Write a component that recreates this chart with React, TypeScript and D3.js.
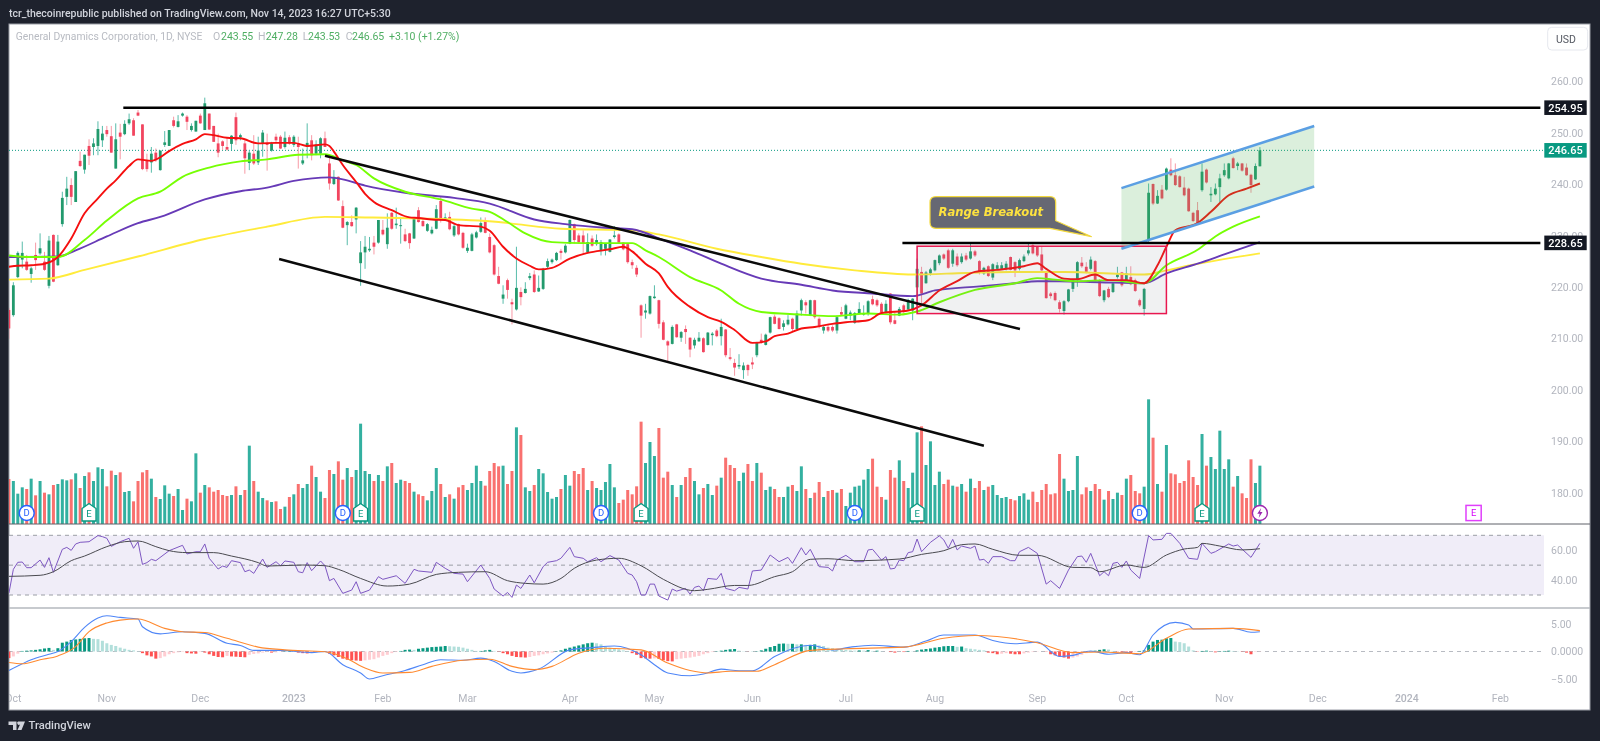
import * as d3 from "d3";

const WIDTH = 1600;
const HEIGHT = 741;

// bars are read left to right off the picture, t = up day, r = down day
const dayDirection = (
  "rtttrtrtrt" + "rtttrtrtrt" + "ttrrtrttrr" + "rrtrtttrtt" + "rttrtrrrrr" + "trtrtrttrt" +
  "rrtrtrttrt" + "trrtrrtrtt" + "ttrtrtrttr" + "rtrrtttrtr" + "trrttttrrr" +
  "rtrrtrttrt" + "ttttrttrrr" + "trtttttrrr" + "rrr" +
  "tttrrrtrtr" + "rttrttrtrr" + "rttrrtrttr" + "rttrttrtrr" + "trrtrttttt" + "trrrtrrtrt" +
  "ttrttttrrt" + "rtrtrrtrtt" + "ttrrtttrrr" + "rrrrttttrr" + "trrtrttrtr" + "rrttrtrtrr" +
  "rrrrrtrttt" + "ttrtrrrtt"
).split("");

const volumes = [
  135, 129, 91, 110, 105, 136, 86, 129, 94, 89,
  117, 120, 134, 131, 134, 152, 108, 144, 155, 129,
  170, 165, 113, 160, 147, 155, 96, 99, 68, 129,
  155, 162, 136, 81, 75, 116, 91, 84, 105, 42,
  76, 68, 212, 94, 117, 110, 97, 102, 87, 84,
  87, 113, 87, 102, 235, 129, 97, 78, 71, 66,
  68, 45, 52, 81, 89, 120, 108, 120, 175, 141,
  97, 78, 162, 150, 188, 133, 168, 141, 162, 301,
  159, 150, 129, 147, 129, 173, 183, 123, 133, 129,
  123, 97, 89, 84, 71, 99, 168, 120, 81, 89,
  76, 110, 117, 102, 123, 175, 129, 115, 159, 183,
  173, 175, 120, 159, 290, 267, 110, 99, 117, 165,
  152, 96, 76, 81, 105, 147, 115, 159, 150, 168,
  102, 129, 108, 102, 126, 180, 110, 63, 73, 102,
  89, 113, 307,
  183, 246, 204, 288, 139, 157, 117, 81, 117, 141,
  168, 129, 89, 108, 120, 87, 115, 139, 199, 177,
  168, 129, 154, 180, 129, 183, 154, 102, 112, 105,
  81, 81, 112, 117, 99, 173, 105, 78, 94, 126,
  81, 99, 102, 94, 105, 54, 94, 112, 115, 133,
  165, 196, 112, 81, 73, 162, 139, 191, 129, 108,
  154, 275, 293, 177, 248, 117, 157, 120, 133, 115,
  112, 120, 97, 136, 108, 129, 102, 112, 117, 87,
  78, 81, 75, 71, 84, 92, 73, 97, 66, 102,
  120, 89, 92, 210, 136, 99, 102, 204, 89, 110,
  99, 120, 105, 73, 99, 75, 94, 87, 136, 147,
  99, 92, 112, 374, 259, 120, 97, 237, 152, 149,
  123, 129, 191, 141, 117, 270, 175, 201, 165, 280,
  165, 194, 112, 144, 92, 78, 194, 123, 175,
];

const highs = [
  216, 221, 227, 228.9, 226.3, 224, 228.7, 230.5, 226.9, 230,
  230.3, 230.2, 238.6, 241.5, 241.2, 242.6, 246.4, 245.8, 248.8, 249,
  252.3, 251.4, 251.4, 251.4, 251.9, 251.8, 252.5, 253.8, 252.9, 254.5,
  251.7, 246, 247.3, 247, 246.6, 250.4, 250.6, 253.2, 253.5, 254,
  253.5, 251.9, 252.4, 253.8, 256.9, 253.8, 251.4, 249.9, 248.6, 249,
  249.6, 254, 249.9, 248.6, 246.7, 249.6, 249.3, 250.6, 249.9, 248.3,
  249.9, 249.6, 250.3, 249.6, 249.6, 249.3, 247, 251.9, 249.6, 248.6,
  249.2, 250.3, 245.4, 242.8, 241.6, 236.9, 232.9, 234, 235.6, 229,
  230, 229.8, 230, 233.1, 233.1, 234.4, 234.7, 235.5, 233.7, 231.4,
  230.6, 233.6, 235.6, 233.4, 232.5, 231.8, 236, 237.6, 234.4, 234.7,
  232.4, 232.4, 230.8, 228.5, 230.6, 231, 233.6, 233.6, 230.5, 228.4,
  224, 220.4, 221.7, 217.8, 227.9, 220, 221, 222.8, 223.3, 222.3,
  223.8, 225.6, 225.6, 226.9, 227.5, 228.4, 233.2, 232.4, 230.5, 231.1,
  230.5, 230.1, 230.3, 229.2, 228.6, 229.4, 231.9, 230.5, 228.8, 228.5,
  225.4, 224.3, 216.7, 216.8, 218.4, 220.4, 217.6, 213.6, 209.7, 212.6,
  212.9, 211.5, 212.6, 210.3, 210.2, 211.3, 210.3, 211.3, 211.3, 211.9,
  213.9, 211.9, 208.2, 206.1, 207, 205.4, 205.1, 206.4, 209.4, 211,
  211, 214.3, 214.7, 214.2, 213.6, 214.6, 214.1, 215.5, 217.8, 217.5,
  217.6, 217.6, 214.2, 212.6, 212.8, 212.6, 214.5, 216.2, 216.8, 215.5,
  215.2, 217.1, 216.5, 217.5, 218.4, 217.8, 217.1, 217.5, 218.9, 215.2,
  216.2, 216.8, 217.8, 217.9, 225.6, 224, 223.2, 223.8, 225.4, 226.4,
  226.6, 227.5, 227.5, 226.6, 226.6, 226.7, 228.7, 227.3, 225.3, 224,
  224.3, 224.7, 224.9, 224.9, 225.1, 226, 225.1, 225.6, 226.4, 228.5,
  228.4, 228, 227.9, 223, 219.1, 219.2, 217.5, 217.5, 219.7, 221.5,
  225.1, 225.9, 224.9, 226, 225.3, 221.6, 219.5, 220.1, 221, 224,
  223, 224, 224.1, 221.7, 217.8, 219.9, 240.2, 240.2, 238.9, 239.9,
  243.3, 245.1, 244.1, 241.8, 241.5, 239.4, 234.7, 236.6, 244.1, 243.1,
  239.5, 240.2, 242.1, 244.1, 244.2, 245.4, 244.4, 244.2, 244.1, 242.1,
  244.1, 247.28,
];

const bodyTops = [
  215.6, 220.4, 226.7, 226.7, 225, 223.7, 226.3, 227.6, 225, 229.1,
  230.2, 228.9, 237.4, 239.2, 239.9, 242.6, 244.6, 245.8, 247.5, 248,
  250.8, 249.9, 250.6, 249.4, 248.8, 250.1, 251.8, 252.7, 252.5, 254,
  251.7, 244.7, 246, 246.2, 246.6, 248.2, 250.6, 252.5, 252.3, 253.8,
  253.2, 251.4, 252.4, 253.4, 255.8, 253.8, 251.4, 248, 248.4, 247.3,
  249.5, 253.1, 249.6, 248, 246.2, 246, 246.6, 250.1, 248, 248,
  249.3, 249.3, 249.1, 249.2, 249.3, 248, 244.7, 248.1, 248.6, 247.8,
  249, 249, 244.1, 241.5, 241.5, 235.8, 232.7, 232.7, 235.5, 226.8,
  227.9, 227.5, 228.7, 233.1, 231.2, 231.6, 234.5, 232.4, 232.1, 230.3,
  230.5, 233.4, 235, 232.9, 232.3, 231.2, 235.2, 236.8, 233.6, 233.7,
  231.9, 232.3, 230.6, 227.7, 230.3, 230.7, 232.5, 232.9, 229.8, 228.2,
  222.2, 218.6, 221.4, 217.1, 219.9, 219.1, 219.7, 222.2, 222.5, 219.9,
  223.6, 225.1, 225.4, 226.7, 227.1, 228.1, 233.1, 232.3, 230.1, 230.1,
  228.8, 229.5, 229.2, 228.8, 228.5, 229.3, 230.1, 230.3, 228.7, 228.4,
  224.9, 223.8, 216.5, 215.5, 218.3, 218.2, 217.5, 213.2, 209.5, 212.3,
  212.8, 211.3, 211.9, 210.2, 209.8, 210.2, 210.1, 211.2, 211, 211.6,
  212.3, 211.8, 206.4, 205.3, 204.9, 204.8, 204.9, 205.4, 209.2, 209.8,
  210.8, 214.2, 214.3, 214, 213, 213.7, 213.9, 214.9, 217.5, 217.1,
  217.5, 217.5, 213.9, 212.3, 212.3, 212.3, 214.2, 215.2, 216.5, 215.1,
  215, 215.8, 215, 217.3, 217.7, 217.5, 216.8, 216.8, 218.8, 213.6,
  215.8, 216.5, 217.5, 217.8, 223.6, 223, 222.9, 223.5, 225.3, 226.2,
  226.4, 227.2, 227.2, 226, 226, 226.2, 227, 227, 225.1, 223.8,
  224.1, 224.5, 224.3, 224.3, 224.6, 225.9, 224.9, 225.3, 226, 227.2,
  228.2, 227.9, 226.4, 222.8, 218.8, 218.9, 217.1, 217.3, 219.6, 221.4,
  224.9, 224.8, 224, 225.4, 225.1, 221.4, 219.4, 219.7, 220.8, 222.5,
  222.9, 222.7, 222, 221.4, 217.5, 219.7, 238.4, 240.1, 237.8, 239,
  243.1, 242.9, 241.8, 241.6, 239.4, 239.2, 234.5, 235, 242.5, 242.9,
  238.2, 239.2, 241.2, 242.8, 244.1, 245.1, 244.1, 244.1, 243.3, 241.9,
  243.6, 246.65,
];

const bodyBottoms = [
  212, 214.6, 222, 225.4, 223.4, 222.6, 225.3, 226.6, 223.4, 220.3,
  221.1, 224.3, 232.3, 237.6, 237.6, 236.6, 243.6, 242.9, 245.6, 247.3,
  247.5, 248.6, 249.8, 246.2, 243.1, 249.3, 249.8, 251.9, 249.5, 253.4,
  243, 243, 244.3, 244.7, 242.8, 247.7, 247.5, 251.4, 251.2, 253.4,
  252.2, 250.6, 250.3, 251.9, 250.6, 250.7, 248.3, 246.2, 247.5, 246.8,
  247.9, 248.6, 249.2, 245.1, 244.2, 244.1, 244.3, 248, 247.7, 246.6,
  248.6, 247, 247.3, 248, 247.7, 247.3, 244.1, 247.3, 245.7, 246,
  246, 247.3, 240.2, 240.1, 236.9, 231.6, 232.1, 231.9, 233.2, 224.7,
  226.8, 227.2, 227.9, 228.7, 230.3, 228.4, 231.4, 232.1, 231.9, 229,
  228.6, 229.5, 232.7, 231.9, 231, 230.5, 231.4, 233.2, 233.2, 231.3,
  230.1, 230.3, 227.7, 227.1, 227.1, 229.7, 230.8, 230.6, 226.8, 222.5,
  220.7, 217.8, 219.5, 216.7, 215.7, 218.1, 218.9, 221.8, 219.1, 219.2,
  219.7, 224, 224.9, 225.3, 226.7, 226.8, 228.5, 229.2, 228.8, 228.5,
  226.8, 228.1, 228.4, 227.2, 227.5, 226.9, 229.8, 228.7, 227.4, 224.9,
  224.3, 222.5, 214.5, 215.1, 214.9, 217.9, 212.9, 209.8, 208.7, 209,
  210.3, 210.2, 211.3, 207.9, 208.7, 209.5, 207.4, 208.8, 210.7, 210.5,
  210.5, 206.8, 206.1, 204.4, 204.6, 203.9, 203.9, 205, 206.8, 209.2,
  208.8, 211.2, 212.9, 211.9, 212.3, 212.8, 211.9, 211.9, 215.5, 216.5,
  214.5, 214.2, 212.3, 211.6, 211.6, 211.6, 211.6, 214.7, 213.9, 214.5,
  213.1, 214.9, 214.7, 214.9, 216.7, 216.5, 215.1, 215.2, 213.2, 212.9,
  214.5, 215.2, 215.7, 215.5, 220, 218.8, 220.8, 222.7, 223.3, 224.7,
  225.6, 223.8, 224.6, 224.3, 224.9, 225.4, 225.6, 226.2, 223, 222.7,
  222.2, 221.9, 223.6, 223.6, 223.6, 223.4, 223.3, 223.6, 225.1, 226.6,
  226.6, 226.2, 223.3, 217.9, 218.3, 217.5, 215.8, 215.4, 217.3, 219.7,
  221.4, 224.1, 223, 223.6, 221.4, 218.3, 217.5, 218.1, 219.1, 222,
  220.4, 221.4, 220.6, 219.3, 216.5, 215.8, 229.2, 236.3, 236.3, 237.3,
  239, 241.8, 239.9, 239.5, 237.9, 234.8, 232.9, 232.5, 238.9, 240.4,
  237.9, 238.1, 239.5, 241.8, 241.2, 243.2, 243.6, 242.7, 241.8, 239.9,
  241, 243.55,
];

const lows = [
  210, 214.3, 221.8, 223.7, 223.2, 220.9, 223.4, 226.3, 223.2, 219.8,
  221, 224.2, 231.8, 236, 236, 236.6, 243.4, 242.1, 243.8, 245.7,
  245.7, 247.3, 249.3, 246.2, 243.1, 244.9, 249.6, 251.6, 249.5, 253.3,
  242.8, 242.5, 242.3, 244.4, 242.7, 247.3, 247.5, 251.1, 251.1, 253.2,
  250.6, 250.3, 250.3, 251.8, 250.6, 250.6, 248.3, 245.3, 246.7, 246.6,
  246.7, 247.7, 248.6, 242.1, 242.8, 243.8, 243.8, 245.4, 242.7, 246.4,
  248, 246.9, 247, 247.7, 247.3, 243.1, 243.8, 245.1, 244.7, 245.7,
  245.1, 247.3, 239, 239.9, 236.8, 231.5, 228.2, 231.8, 230.5, 220.3,
  223.6, 226.9, 226.4, 228.5, 230.1, 227.5, 231.2, 231.4, 228.5, 228.8,
  227.5, 229.4, 232.6, 231.8, 230.8, 230.3, 231.3, 232.6, 233.1, 231.1,
  229.8, 230.1, 227.5, 226.7, 227, 229.5, 230.6, 230.5, 226.6, 222.3,
  220.6, 216.8, 217.8, 212.8, 215.5, 216.5, 218.8, 221.4, 218.9, 219.1,
  219.5, 223.6, 224.6, 225.1, 225.4, 226.6, 228.4, 228.5, 228.5, 226.6,
  226.6, 227.9, 228.1, 226.2, 226.2, 226.8, 229.5, 228.5, 227.2, 224.6,
  223.6, 222, 210.2, 213.9, 214.7, 217.8, 212, 209.7, 205.3, 208.9,
  210.2, 209.4, 209, 206.4, 208.1, 209.4, 207.3, 208.7, 208.7, 210.3,
  208.7, 206.4, 205.8, 202.8, 204.1, 202.2, 202.8, 204.1, 206.4, 209,
  208.7, 211, 212.8, 211.8, 211.6, 212.6, 211.5, 211.8, 214.5, 214.9,
  214.4, 213.9, 212, 211, 211.3, 211.3, 211, 214.5, 213.8, 213.6,
  212.9, 214.7, 214.5, 214.5, 216.5, 216.2, 214.9, 214.9, 212.8, 212.8,
  214.4, 215, 215.5, 213.6, 216.2, 216.8, 220.7, 222.3, 223.1, 224.3,
  225.3, 223.6, 224, 224, 224.6, 225.1, 225.4, 225.9, 222.5, 222.4,
  222, 221.4, 223.3, 223.4, 223.3, 223.3, 222, 223.3, 224.9, 226.2,
  226.4, 225.9, 223.2, 217.8, 217.8, 217.3, 215.1, 214.7, 217.1, 219.1,
  220.1, 223.8, 222.7, 223.3, 221, 218.1, 217.1, 217.9, 218.9, 221.7,
  220.1, 221.2, 220.4, 219.1, 216.2, 214.5, 228.6, 236, 236.2, 237.1,
  238.8, 241.6, 239.7, 239.4, 237.7, 234.7, 232.7, 232.4, 238.6, 240.2,
  236.6, 237.9, 236.6, 241.5, 241, 243.1, 242.8, 242.5, 241.7, 238.4,
  240.9, 243.53,
];

// moving averages, [bar, value]
const ema20: [number, number][] = [
  [0, 224], [2, 224.2], [5, 224.3], [8, 224.6], [11, 225.9], [14, 229.5], [17, 234.4], [20, 237.3], [22, 239.2], [24, 240.8],
  [27, 243.6], [29, 244.9], [32, 244.6], [34, 245.3], [36, 246.5], [39, 247.9], [42, 248.8], [44, 249.8], [46, 249.6], [49, 249.1],
  [52, 249], [56, 248], [60, 248.1], [64, 248.1], [67, 247.5], [71, 247.8], [72, 247.5], [73, 246.4], [75, 243.8], [78, 240.5],
  [80, 238.2], [82, 236.6], [86, 235], [90, 233.6], [92, 233.5], [95, 233.2], [98, 233.1], [101, 232.1], [106, 231.8], [108, 231],
  [111, 227.9], [114, 225.6], [117, 224.2], [119, 223.5], [122, 223.8], [126, 225.6], [130, 226.7], [135, 227.4], [138, 227.9], [140, 227],
  [143, 224.6], [146, 222.7], [148, 220.1], [153, 216.2], [157, 214.2], [160, 213.3], [163, 211.7], [167, 209.2], [170, 209.5], [172, 210.5],
  [175, 211], [178, 212], [181, 212.3], [185, 212.9], [188, 213.2], [193, 213.6], [196, 215], [202, 215.5], [205, 216.5], [209, 219.4],
  [213, 221.2], [217, 223], [222, 223.4], [228, 224.1], [231, 224.7], [233, 223.6], [237, 221.7], [240, 221.6], [244, 222.5], [247, 221.4],
  [251, 221.4], [255, 220.8], [258, 224.3], [260, 227.9], [262, 231.1], [267, 232.5], [270, 234.7], [274, 237.9], [278, 239.2], [281, 240.2],
];
const ema50: [number, number][] = [
  [0, 226.2], [5, 225.9], [11, 225.9], [17, 229.2], [22, 233], [29, 237.3], [34, 238.6], [39, 241.5], [45, 243.3], [52, 244.5],
  [58, 244.9], [65, 245.8], [71, 245.9], [75, 244.7], [78, 243.8], [82, 241.2], [89, 238.6], [97, 237.1], [104, 235.3], [108, 234.7],
  [112, 232.7], [116, 230.5], [122, 228.8], [129, 228.6], [140, 228.6], [143, 227.2], [146, 225.9], [153, 222], [160, 219.4], [164, 216.8],
  [169, 215.2], [178, 214.7], [185, 214.4], [193, 214.9], [200, 214.7], [204, 215.3], [209, 217.1], [217, 219.5], [226, 220.8], [231, 221.8],
  [235, 221.5], [240, 221.2], [247, 221.4], [255, 220.8], [260, 224.3], [267, 227.3], [271, 229.9], [275, 231.8], [281, 233.8],
];
const ema100: [number, number][] = [
  [0, 225.9], [11, 226], [15, 227.2], [22, 229.9], [29, 232.5], [34, 233.7], [44, 237.1], [52, 238.7], [58, 239.4], [64, 240.7],
  [72, 241.4], [75, 241], [80, 239.8], [89, 238.4], [100, 237.4], [108, 236.3], [118, 233.2], [125, 232.3], [134, 231.6], [140, 231.3],
  [147, 229.2], [153, 227.2], [160, 224.6], [169, 221.7], [178, 220.5], [185, 219.4], [194, 218.8], [203, 218.3], [208, 219.4], [218, 220.2],
  [226, 220.8], [231, 221.2], [236, 221.2], [245, 221], [255, 220.8], [260, 222.7], [267, 224.6], [273, 226.4], [281, 228.8],
];
const ema200: [number, number][] = [
  [0, 221.5], [9, 221.7], [17, 223.4], [29, 226], [44, 229.4], [58, 231.8], [71, 233.7], [80, 233.6], [92, 233.4], [110, 232.7],
  [114, 232.3], [124, 231.4], [140, 231.1], [146, 230.3], [159, 227.5], [169, 225.9], [178, 224.6], [190, 223.3], [203, 222.5], [215, 222.8],
  [225, 223], [237, 223], [255, 222.5], [260, 223.3], [266, 224.4], [281, 226.6],
];

const rsi: [number, number][] = [
  [0, 31.1], [1, 47.2], [2, 51.9], [3, 52.1], [4, 48.3], [5, 48.3], [7, 53.4], [8, 48.5], [9, 55], [10, 45.2],
  [12, 60.6], [13, 61.9], [14, 59.9], [15, 64.2], [16, 65.3], [18, 65.7], [20, 69.8], [21, 69.1], [22, 68], [23, 62.6],
  [25, 65.7], [27, 68], [28, 61.3], [29, 65.7], [30, 50.5], [31, 51.7], [32, 53.9], [33, 53], [36, 59.7], [39, 63.3],
  [40, 57.5], [42, 59], [43, 59], [44, 64.2], [45, 54.6], [47, 47.4], [48, 49.4], [49, 48.5], [50, 53], [52, 51.7],
  [53, 45.6], [54, 46.7], [55, 44.5], [57, 54.1], [58, 48.5], [60, 52.3], [61, 49.6], [62, 52.8], [64, 51.9], [65, 45.6],
  [66, 44.9], [67, 51.7], [68, 46.3], [70, 52.8], [71, 49.6], [72, 39.6], [73, 41.1], [75, 31.1], [77, 33.3], [78, 38.9],
  [79, 31.1], [81, 33.3], [83, 42.3], [84, 40.5], [87, 42.9], [89, 37.8], [91, 47.2], [92, 46.1], [95, 45.2], [96, 51.9],
  [98, 47.9], [100, 44.5], [102, 44], [103, 38.9], [106, 50.1], [108, 41.1], [109, 34], [111, 29.3], [112, 31.7], [113, 28.4],
  [114, 36.7], [115, 34.4], [117, 43.4], [118, 38.2], [120, 49], [121, 51.9], [123, 53], [124, 54.6], [126, 61.9], [127, 55.7],
  [129, 54.6], [130, 52.3], [132, 55], [133, 52.3], [135, 56.4], [137, 53.4], [139, 44.5], [140, 43.4], [141, 38.9], [142, 30],
  [143, 30], [144, 37.3], [145, 37.3], [146, 29.3], [148, 26.6], [149, 34], [150, 32.6], [152, 34.4], [153, 30.6], [154, 35.1],
  [155, 36], [156, 32.9], [157, 41.1], [159, 40.5], [160, 44.5], [161, 34.4], [163, 32.9], [164, 35.1], [166, 34], [167, 46.1],
  [169, 46.7], [171, 56.8], [173, 52.3], [175, 55.2], [176, 51.2], [178, 61.7], [179, 56.8], [180, 60.6], [182, 49], [184, 48.5],
  [185, 46.1], [186, 53.4], [188, 56.6], [190, 52.3], [192, 52.3], [193, 60.2], [194, 60.6], [196, 53.4], [197, 55.7], [198, 47.4],
  [199, 47.9], [200, 53.4], [201, 53], [202, 58.4], [203, 59], [204, 67.5], [205, 59], [207, 65.3], [209, 69.6], [210, 66.9],
  [211, 61.3], [212, 67.3], [213, 60.2], [214, 62.8], [216, 61.3], [217, 62.8], [218, 53.4], [219, 53.9], [220, 51.2], [221, 55.7],
  [223, 55.7], [225, 53], [226, 53], [227, 59], [229, 61.9], [231, 57.9], [233, 37.3], [234, 39.6], [236, 34.4], [238, 46.7],
  [240, 55.7], [241, 56.1], [242, 51.9], [243, 57.9], [245, 42.9], [246, 45.6], [247, 42.9], [248, 51.2], [249, 51.9], [250, 48.5],
  [251, 52.8], [252, 46.7], [254, 41.1], [256, 69.8], [257, 66.9], [259, 67.3], [260, 71.3], [261, 71.3], [263, 64.6], [265, 54.6],
  [267, 53.9], [268, 64.6], [270, 57.9], [271, 59], [274, 64.2], [275, 62.8], [276, 63.5], [279, 55.2], [281, 64.6],
];
const rsiMa: [number, number][] = [
  [0, 42.5], [7, 43.2], [10, 45.6], [14, 53], [17, 56.1], [22, 62.4], [26, 65.7], [29, 66.2], [33, 62.4], [36, 59.7],
  [40, 58.4], [46, 58.4], [50, 56.1], [56, 51.7], [58, 49.4], [66, 50.1], [71, 49.6], [74, 47.2], [79, 41.1], [85, 36],
  [90, 37.3], [96, 43.8], [101, 45.2], [107, 45.6], [112, 39.6], [116, 37.8], [120, 37.3], [124, 41.1], [127, 47.9], [132, 53.4],
  [137, 54.6], [142, 49.6], [147, 40.5], [154, 32.9], [157, 33.8], [163, 36.4], [166, 36.4], [172, 42.3], [176, 45.6], [180, 53.9],
  [184, 54.3], [190, 53], [200, 54.1], [205, 57.2], [210, 59.7], [214, 63.7], [217, 64.2], [221, 60.6], [227, 56.6], [231, 56.6],
  [239, 48.5], [243, 48.3], [245, 45.6], [251, 50.1], [255, 48.5], [260, 56.8], [264, 60.8], [267, 61.9], [268, 64.6], [272, 62.8],
  [277, 60.2], [281, 61],
];

const macdLine: [number, number][] = [
  [0, -3.45], [3, -2.24], [5, -1.5], [9, -0.5], [11, 0], [14, 1.8], [17, 4.4], [20, 6.1], [22, 6.5], [25, 6.2],
  [29, 5.9], [30, 4.5], [34, 3.2], [39, 3.6], [44, 3.3], [49, 1.5], [52, 1.1], [55, 0.2], [61, 0.2], [68, -0.2],
  [71, 0], [75, -2.4], [79, -3.9], [81, -5], [84, -4.4], [89, -3.45], [93, -2.4], [97, -1.5], [102, -1.6], [106, -1.2],
  [109, -1.8], [113, -3.6], [115, -3.9], [119, -3.2], [126, 0.3], [131, 0.7], [136, 1], [142, -0.6], [145, -2.4], [148, -3.9],
  [153, -4.4], [156, -4.1], [160, -3.2], [164, -3.5], [167, -3.5], [172, -0.9], [180, 1.15], [185, 0.3], [189, 0.8], [194, 1.15],
  [201, 0.8], [206, 1.9], [210, 3], [217, 3], [221, 2], [226, 1.4], [231, 1.7], [236, -0.9], [239, -0.7], [243, 0.1],
  [247, -0.5], [251, -0.2], [254, -0.6], [257, 3], [262, 5.3], [265, 4.8], [266, 4.1], [275, 4.2], [279, 3.5], [281, 3.6],
];
const signalLine: [number, number][] = [
  [0, -2], [3, -2.24], [7, -1.5], [11, -0.8], [15, 0.9], [18, 3.6], [22, 5.2], [25, 5.7], [29, 5.9], [35, 4.2],
  [39, 3.6], [44, 3.45], [49, 2.4], [56, 0.8], [62, 0.3], [71, -0.05], [76, -1.3], [80, -3], [84, -3.9], [90, -3.8],
  [95, -2.7], [102, -1.6], [108, -1.4], [113, -2.7], [118, -3.3], [122, -2.7], [128, -0.3], [134, 0.6], [142, 0.3], [148, -2.1],
  [153, -3.45], [157, -3.9], [162, -3.6], [168, -3.6], [172, -2.4], [180, 0.2], [188, 0.5], [201, 0.8], [210, 2.4], [217, 2.9],
  [231, 1.6], [239, -0.2], [245, -0.1], [254, -0.4], [260, 2.4], [265, 4.1], [275, 4.2], [281, 3.8],
];
const macdHist = [
  -1.2, -0.9, -0.4, 0.1, 0.15, 0.2, 0.3, 0.4, 0.55, 0.65,
  0.3, 0.6, 1.6, 1.8, 2.1, 2.2, 2.3, 2.4, 2.45, 2.3,
  2.25, 1.95, 1.5, 1.2, 1, 0.7, 0.5, 0.3, 0.2, 0.05,
  -0.3, -0.7, -0.9, -1.3, -1.2, -0.9, -0.5, -0.3, -0.15, -0.1,
  -0.3, -0.35, -0.4, -0.1, -0.2, -0.5, -0.8, -1, -1.05, -0.8,
  -0.9, -0.95, -1, -1.05, -0.6, -0.45, -0.35, -0.2, -0.1, -0.2,
  -0.15, -0.05, 0.05, 0.1, 0.05, -0.2, -0.3, -0.35, -0.2, -0.15,
  -0.05, 0, -0.4, -0.7, -1, -1.3, -1.5, -1.6, -1.65, -1.7,
  -1.6, -1.5, -1.4, -1.1, -0.8, -0.6, -0.3, -0.1, 0.1, 0.3,
  0.35, 0.3, 0.5, 0.6, 0.7, 0.8, 0.85, 0.9, 1, 0.95,
  0.9, 0.85, 0.7, 0.5, 0.3, 0.1, 0.1, 0.2, 0.3, 0.1,
  -0.05, -0.3, -0.5, -0.8, -1, -1.05, -1.1, -1, -0.8, -0.7,
  -0.5, -0.35, -0.2, 0.05, 0.2, 0.5, 0.7, 0.9, 1.1, 1.3,
  1.5, 1.6, 1.5, 1.3, 0.9, 0.7, 0.5, 0.4, 0.2, 0.1,
  -0.3, -0.6, -1.2, -1.25, -1.3, -1.25, -1.35, -1.6, -1.75, -1.8,
  -1.4, -1.3, -1.2, -1.1, -0.95, -0.8, -0.5, -0.3, -0.1, 0.05,
  0.15, 0.3, 0.4, 0.45, 0.15, 0.05, -0.02, 0.02, 0.05, 0.2,
  0.5, 0.8, 1, 1.4, 1.45, 1.4, 1.4, 1.3, 1.3, 1.2,
  1.2, 1.3, 1.1, 1, 0.7, 0.6, 0.45, 0.35, 0.3, 0.2,
  0.15, 0.2, 0.15, 0.25, 0.1, 0.15, 0.05, 0, -0.1, -0.2,
  0, -0.1, 0.1, 0.05, 0.2, 0.35, 0.45, 0.55, 0.7, 0.8,
  0.95, 1, 1, 0.85, 0.9, 0.6, 0.5, 0.4, 0.3, 0.2,
  -0.2, -0.3, -0.5, -0.4, -0.3, -0.4, -0.5, -0.5, -0.35, -0.2,
  -0.1, -0.05, 0, -0.05, -0.5, -0.7, -0.9, -1.1, -1.3, -1.1,
  -0.9, -0.6, -0.3, 0, 0.15, 0.3, 0.4, 0.35, 0.1, -0.05,
  -0.15, -0.25, -0.3, -0.1, 0.1, 0.2, 1.2, 1.8, 2.1, 2.15,
  2.4, 2.45, 1.8, 1.7, 1.5, 0.9, 0.2, -0.05, 0.1, 0.15,
  0.05, -0.15, 0.05, 0.1, 0.15, 0.1, 0.05, -0.05, -0.2, -0.5,
  -0.1, -0.05,
];

const priceTicks = [260, 250, 240, 230, 220, 210, 200, 190, 180];
const rsiTicks = [60, 40];
const macdTicks = [5, 0, -5];
const timeLabels: [number, string][] = [
  [1, "Oct"], [22, "Nov"], [43, "Dec"], [64, "2023"], [84, "Feb"], [103, "Mar"], [126, "Apr"], [145, "May"], [167, "Jun"],
  [188, "Jul"], [208, "Aug"], [231, "Sep"], [251, "Oct"], [273, "Nov"], [294, "Dec"], [314, "2024"], [335, "Feb"],
];
const dividendBars = [4, 75, 133, 190, 254];
const earningsBars = [18, 79, 142, 204, 268];
const futureEarningsBar = 329;
const latestNewsBar = 281;

// the drawings on the chart, [bar, price]
const resistance = { from: 25.7, to: 344, price: 254.95 };
const support = { from: 200.7, to: 344, price: 228.65 };
const fallingUpper: [number, number][] = [[71, 245.6], [227.1, 211.9]];
const fallingLower: [number, number][] = [[60.7, 225.5], [219, 189.2]];
const channelUpper: [number, number][] = [[249.9, 239.3], [293.2, 251.4]];
const channelLower: [number, number][] = [[249.9, 227.5], [293.2, 239.6]];
const rangeBox = { from: 204, to: 260, top: 228, bottom: 214.9 };

const LAST_PRICE = 246.65;
const CHART = { left: 9, right: 1590, top: 24, bottom: 710, plotRight: 1544 };
const AXIS_FONT = "Roboto, sans-serif";
const AXIS_COLOR = "#b2b5be";
const UP_BODY = "#229a6d";
const UP_WICK = "#58bcaa";
const DOWN_BODY = "#f2455f";
const DOWN_WICK = "#f79aa6";

const x = d3.scaleLinear().domain([0, 281]).range([8.9, 1259.9]);
const yPrice = d3.scaleLinear().domain([260, 180]).range([81.7, 493]);
const yVolume = d3.scaleLinear().domain([0, 300]).range([524, 424]);
const yRsi = d3.scaleLinear().domain([70, 30]).range([535.3, 595]);
const yMacd = d3.scaleLinear().domain([5, -5]).range([624, 679]);

const priceCurve = d3
  .line<[number, number]>()
  .x((d) => x(d[0]))
  .y((d) => yPrice(d[1]))
  .curve(d3.curveMonotoneX);
const rsiCurve = d3
  .line<[number, number]>()
  .x((d) => x(d[0]))
  .y((d) => yRsi(d[1]));
const rsiMaCurve = d3
  .line<[number, number]>()
  .x((d) => x(d[0]))
  .y((d) => yRsi(d[1]))
  .curve(d3.curveMonotoneX);
const macdCurve = d3
  .line<[number, number]>()
  .x((d) => x(d[0]))
  .y((d) => yMacd(d[1]))
  .curve(d3.curveMonotoneX);
const straight = d3
  .line<[number, number]>()
  .x((d) => x(d[0]))
  .y((d) => yPrice(d[1]));

function histColor(i: number) {
  const v = macdHist[i];
  const prev = i > 0 ? macdHist[i - 1] : 0;
  if (v >= 0) return v >= prev ? "#089981" : "#b2dfdb";
  return v <= prev ? "#ff5252" : "#ffcdd2";
}

function AxisText({ x: tx, y, children }: { x: number; y: number; children: string }) {
  return (
    <text x={tx} y={y} dy="0.35em" fontFamily={AXIS_FONT} fontSize={10.5} fill={AXIS_COLOR}>
      {children}
    </text>
  );
}

function PriceBadge({ price, fill }: { price: number; fill: string }) {
  const y = yPrice(price);
  return (
    <g>
      <rect x={1544.3} y={y - 7.3} width={42.4} height={14.6} fill={fill} />
      <text x={1565.5} y={y} dy="0.35em" textAnchor="middle" fontFamily={AXIS_FONT} fontSize={11} fontWeight={500} fill="#fff">
        {price.toFixed(2)}
      </text>
    </g>
  );
}

function Dividend({ bar }: { bar: number }) {
  return (
    <g transform={`translate(${x(bar)},513)`}>
      <circle r={7.5} fill="#fff" stroke="#2962ff" strokeWidth={1.5} />
      <text textAnchor="middle" dy="0.36em" fontFamily={AXIS_FONT} fontSize={9.5} fill="#2962ff">D</text>
    </g>
  );
}

function Earnings({ bar }: { bar: number }) {
  return (
    <g transform={`translate(${x(bar)},513)`}>
      <path d="M-7,-4.5 L0,-9.5 L7,-4.5 L7,8 L-7,8 Z" fill="#fff" stroke="#089981" strokeWidth={1.4} />
      <text textAnchor="middle" y={0.5} dy="0.36em" fontFamily={AXIS_FONT} fontSize={9.5} fill="#089981">E</text>
    </g>
  );
}

export default function App() {
  const bars = d3.range(volumes.length);
  const priceLineY = yPrice(LAST_PRICE);

  return (
    <svg
      width={WIDTH}
      height={HEIGHT}
      viewBox={`0 0 ${WIDTH} ${HEIGHT}`}
      style={{ position: "absolute", left: 0, top: 0, display: "block", filter: "blur(0.35px)" }}
    >
      <defs>
        <clipPath id="plot">
          <rect x={CHART.left} y={CHART.top} width={CHART.right - CHART.left} height={CHART.bottom - CHART.top} />
        </clipPath>
      </defs>

      <rect width={WIDTH} height={HEIGHT} fill="#1e222d" />
      <rect
        x={CHART.left}
        y={CHART.top}
        width={CHART.right - CHART.left}
        height={CHART.bottom - CHART.top}
        fill="#fff"
        stroke="#9a9da6"
        strokeWidth={1}
      />
      <text x={9} y={13} dy="0.35em" fontFamily={AXIS_FONT} fontSize={10.5} fontWeight={500} fill="#d1d4dc">
        tcr_thecoinrepublic published on TradingView.com, Nov 14, 2023 16:27 UTC+5:30
      </text>

      <g clipPath="url(#plot)">
        <line
          x1={CHART.left}
          x2={CHART.plotRight}
          y1={priceLineY}
          y2={priceLineY}
          stroke="#089981"
          strokeWidth={1}
          strokeDasharray="1 2"
        />

        {/* volume */}
        {bars.map((i) => (
          <rect
            key={`v${i}`}
            x={x(i) - 1.5}
            y={yVolume(volumes[i])}
            width={3}
            height={524 - yVolume(volumes[i])}
            fill={dayDirection[i] === "t" ? "#33b0a0" : "#f9716f"}
          />
        ))}

        {/* candles */}
        {bars.map((i) => {
          const up = dayDirection[i] === "t";
          const yTop = yPrice(bodyTops[i]);
          const yBottom = yPrice(bodyBottoms[i]);
          return (
            <g key={`c${i}`}>
              <line
                x1={x(i)}
                x2={x(i)}
                y1={yPrice(highs[i])}
                y2={yPrice(lows[i])}
                stroke={up ? UP_WICK : DOWN_WICK}
                strokeWidth={1}
              />
              <rect
                x={x(i) - 1.4}
                y={yTop}
                width={2.8}
                height={Math.max(yBottom - yTop, 1)}
                fill={up ? UP_BODY : DOWN_BODY}
              />
            </g>
          );
        })}

        {/* moving averages */}
        <path d={priceCurve(ema200) ?? ""} fill="none" stroke="#ffeb3b" strokeWidth={1.9} />
        <path d={priceCurve(ema100) ?? ""} fill="none" stroke="#673ab7" strokeWidth={1.9} />
        <path d={priceCurve(ema50) ?? ""} fill="none" stroke="#76ff03" strokeWidth={1.9} />
        <path d={priceCurve(ema20) ?? ""} fill="none" stroke="#f50f0f" strokeWidth={1.9} />

        {/* drawings */}
        <rect
          x={x(rangeBox.from)}
          y={yPrice(rangeBox.top)}
          width={x(rangeBox.to) - x(rangeBox.from)}
          height={yPrice(rangeBox.bottom) - yPrice(rangeBox.top)}
          fill="rgba(120,123,134,0.11)"
          stroke="#e8174f"
          strokeWidth={1.5}
        />
        <path
          d={`${straight([channelUpper[0], channelUpper[1], channelLower[1], channelLower[0]])}Z`}
          fill="rgba(76,175,80,0.2)"
        />
        <path d={straight(channelUpper) ?? ""} stroke="#5b9fe3" strokeWidth={2.6} fill="none" />
        <path d={straight(channelLower) ?? ""} stroke="#5b9fe3" strokeWidth={2.6} fill="none" />
        <path d={straight(fallingUpper) ?? ""} stroke="#0a0a0a" strokeWidth={2.5} fill="none" />
        <path d={straight(fallingLower) ?? ""} stroke="#0a0a0a" strokeWidth={2.5} fill="none" />
        <line x1={x(resistance.from)} x2={x(resistance.to)} y1={yPrice(resistance.price)} y2={yPrice(resistance.price)} stroke="#000" strokeWidth={2.5} />
        <line x1={x(support.from)} x2={x(support.to)} y1={yPrice(support.price)} y2={yPrice(support.price)} stroke="#000" strokeWidth={2.5} />

        {/* callout */}
        <path
          d="M936,196.7 H1050 Q1055.7,196.7 1055.7,202.5 V220.7 L1091.7,236.7 L1050,228.3 H936 Q930,228.3 930,222.5 V202.5 Q930,196.7 936,196.7 Z"
          fill="#666873"
          stroke="#f3d93d"
          strokeWidth={1.2}
        />
        <text x={938.5} y={212} dy="0.35em" fontFamily="'DejaVu Sans', sans-serif" fontSize={11.6} fontWeight={700} fontStyle="italic" fill="#fde23f">
          Range Breakout
        </text>

        {/* event markers */}
        {dividendBars.map((b) => (
          <Dividend key={`d${b}`} bar={b} />
        ))}
        {earningsBars.map((b) => (
          <Earnings key={`e${b}`} bar={b} />
        ))}
        <g transform={`translate(${x(latestNewsBar)},513)`}>
          <circle r={7.5} fill="#fff" stroke="#9c27b0" strokeWidth={1.4} />
          <path d="M1.2,-5 L-2.6,0.8 L-0.2,0.8 L-1.2,5 L2.6,-1 L0.2,-1 Z" fill="#9c27b0" />
        </g>
        <g transform={`translate(${x(futureEarningsBar)},513)`}>
          <rect x={-7.6} y={-7.6} width={15.2} height={15.2} fill="#fff" stroke="#e040fb" strokeWidth={1.5} />
          <text textAnchor="middle" dy="0.36em" fontFamily={AXIS_FONT} fontSize={9.5} fill="#d500f9">E</text>
        </g>

        {/* rsi pane */}
        <rect x={CHART.left} y={yRsi(70)} width={CHART.plotRight - CHART.left} height={yRsi(30) - yRsi(70)} fill="#f0edf8" />
        {[70, 50, 30].map((v) => (
          <line key={v} x1={CHART.left} x2={CHART.plotRight} y1={yRsi(v)} y2={yRsi(v)} stroke="#9b9ea6" strokeWidth={1} strokeDasharray="4 4" />
        ))}
        <path d={rsiCurve(rsi) ?? ""} fill="none" stroke="#7e57c2" strokeWidth={1} />
        <path d={rsiMaCurve(rsiMa) ?? ""} fill="none" stroke="#4a4a50" strokeWidth={1} />

        {/* macd pane */}
        <line x1={CHART.left} x2={CHART.plotRight} y1={yMacd(0)} y2={yMacd(0)} stroke="#b8bbc2" strokeWidth={1} strokeDasharray="4 4" />
        {bars.map((i) => (
          <rect
            key={`h${i}`}
            x={x(i) - 1.5}
            y={Math.min(yMacd(macdHist[i]), yMacd(0))}
            width={3}
            height={Math.abs(yMacd(macdHist[i]) - yMacd(0))}
            fill={histColor(i)}
          />
        ))}
        <path d={macdCurve(macdLine) ?? ""} fill="none" stroke="#4f86f7" strokeWidth={1.1} />
        <path d={macdCurve(signalLine) ?? ""} fill="none" stroke="#ff8a30" strokeWidth={1.1} />

        {/* pane separators */}
        <line x1={CHART.left} x2={CHART.right} y1={524} y2={524} stroke="#5f6169" strokeWidth={1} />
        <line x1={CHART.left} x2={CHART.right} y1={608} y2={608} stroke="#b5b8be" strokeWidth={1.4} />

        {/* time axis */}
        {timeLabels.map(([b, label], idx) => (
          <text
            key={idx}
            x={x(b)}
            y={698}
            dy="0.35em"
            textAnchor="middle"
            fontFamily={AXIS_FONT}
            fontSize={10.5}
            fontWeight={label.startsWith("20") ? 500 : 400}
            fill={AXIS_COLOR}
          >
            {label}
          </text>
        ))}
      </g>

      {/* legend */}
      <g fontFamily={AXIS_FONT} fontSize={10.5}>
        <text x={15.7} y={36} dy="0.35em" fontSize={10.35} fill="#b8bbc2">General Dynamics Corporation, 1D, NYSE</text>
        <text x={213} y={36} dy="0.35em" fill="#b8bbc2">O</text>
        <text x={221} y={36} dy="0.35em" fill="#4fae63">243.55</text>
        <text x={258} y={36} dy="0.35em" fill="#b8bbc2">H</text>
        <text x={265.7} y={36} dy="0.35em" fill="#4fae63">247.28</text>
        <text x={302.7} y={36} dy="0.35em" fill="#b8bbc2">L</text>
        <text x={308} y={36} dy="0.35em" fill="#4fae63">243.53</text>
        <text x={345.7} y={36} dy="0.35em" fill="#b8bbc2">C</text>
        <text x={352} y={36} dy="0.35em" fill="#4fae63">246.65</text>
        <text x={389} y={36} dy="0.35em" fill="#4fae63">+3.10 (+1.27%)</text>
      </g>
      <rect x={1547.7} y={27.3} width={40} height={22.7} rx={4} fill="#fff" stroke="#e6e8ee" />
      <text x={1566} y={39} dy="0.35em" textAnchor="middle" fontFamily={AXIS_FONT} fontSize={10.5} fill="#555962">USD</text>

      {/* value scales */}
      {priceTicks.map((t) => (
        <AxisText key={t} x={1551} y={yPrice(t)}>{t.toFixed(2)}</AxisText>
      ))}
      {rsiTicks.map((t) => (
        <AxisText key={t} x={1551} y={yRsi(t)}>{t.toFixed(2)}</AxisText>
      ))}
      {macdTicks.map((t) => (
        <AxisText key={t} x={1551} y={yMacd(t)}>
          {t === 0 ? "0.0000" : t < 0 ? `\u2212${Math.abs(t).toFixed(2)}` : t.toFixed(2)}
        </AxisText>
      ))}
      <PriceBadge price={254.95} fill="#131722" />
      <PriceBadge price={246.65} fill="#089981" />
      <PriceBadge price={228.65} fill="#131722" />

      {/* footer */}
      <path d="M8.5,721.5 H16.5 V730 H13 V725 H8.5 Z M18,721.5 H25 L21.5,730 H17.5 L20,724.5 A1.6,1.6 0 1 1 18,721.5 Z" fill="#d1d4dc" />
      <text x={28.6} y={725.5} dy="0.35em" fontFamily={AXIS_FONT} fontSize={11.2} fontWeight={500} fill="#d1d4dc">TradingView</text>
    </svg>
  );
}
